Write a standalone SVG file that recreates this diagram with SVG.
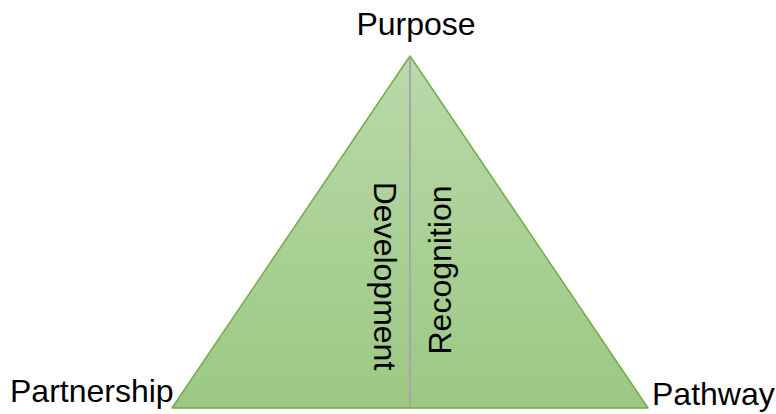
<svg xmlns="http://www.w3.org/2000/svg" width="776" height="414" viewBox="0 0 776 414">
  <defs>
    <linearGradient id="fillGrad" x1="0" y1="0" x2="0" y2="1">
      <stop offset="0" stop-color="#b9d9aa"/>
      <stop offset="1" stop-color="#9cc883"/>
    </linearGradient>
  </defs>
  <style>
    .lbl { font-family: "Liberation Sans", Arial, sans-serif; font-size: 32px; fill: #000; }
  </style>
  <rect width="776" height="414" fill="#ffffff"/>
  <g id="triangle">
    <polygon points="410,56 648,408 172,408" fill="url(#fillGrad)" stroke="#70ad47" stroke-width="1.5" stroke-linejoin="round"/>
  </g>
  <g id="connectors">
    <line x1="410" y1="57" x2="410" y2="407" stroke="#a6a6a6" stroke-width="2"/>
  </g>
  <g id="purpose">
    <text class="lbl" x="416" y="35" text-anchor="middle">Purpose</text>
  </g>
  <g id="partnership">
    <text class="lbl" x="10" y="402">Partnership</text>
  </g>
  <g id="pathway">
    <text class="lbl" x="652" y="405">Pathway</text>
  </g>
  <g id="development">
    <text class="lbl" text-anchor="middle" transform="translate(374,276) rotate(90)">Development</text>
  </g>
  <g id="recognition">
    <text class="lbl" text-anchor="middle" transform="translate(451,270) rotate(-90)">Recognition</text>
  </g>
</svg>
